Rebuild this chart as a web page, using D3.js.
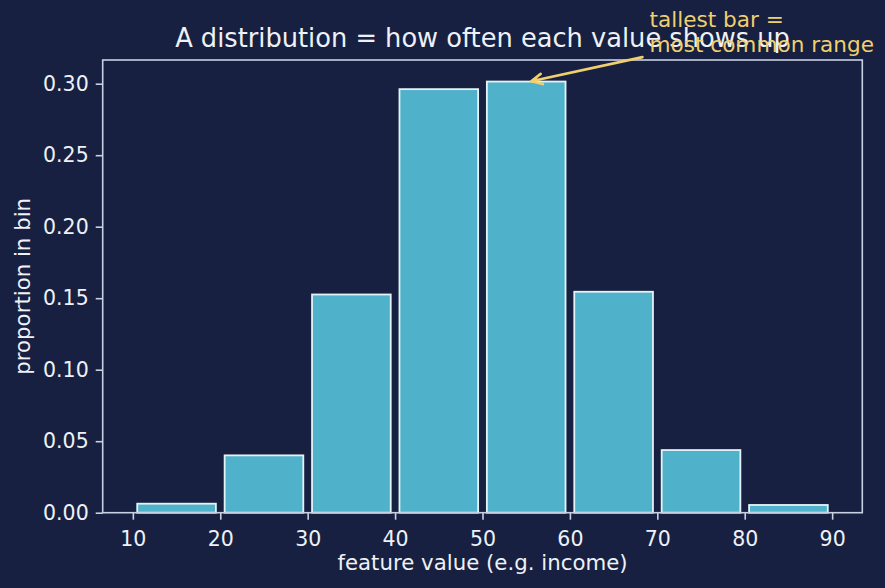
<!DOCTYPE html>
<html>
<head>
<meta charset="utf-8">
<script src="https://cdn.jsdelivr.net/npm/d3@7"></script>
<style>
  html, body { margin: 0; padding: 0; background: #172040; }
  svg { display: block; font-family: "DejaVu Sans", sans-serif; }
</style>
</head>
<body>
<script>
// histogram bins and the share of rows that fall in each one
var binStarts = [10, 20, 30, 40, 50, 60, 70, 80];
var binWidth = 10;
var proportions = [0.0063, 0.0401, 0.1526, 0.2962, 0.3015, 0.1545, 0.0438, 0.0054];
var xTicks = [10, 20, 30, 40, 50, 60, 70, 80, 90];
var yTicks = [0.00, 0.05, 0.10, 0.15, 0.20, 0.25, 0.30];

var titleText = "A distribution = how often each value shows up";
var xLabel = "feature value (e.g. income)";
var yLabel = "proportion in bin";
var noteLines = ["tallest bar =", "most common range"];
var notePoint = [55, 0.301];   // where the arrow points
var noteText = [69.1, 0.3395]; // where the note sits

// colours
var bg = "#172040", barFill = "#50b2ca", barEdge = "#e4f3f7",
    spine = "#c9d1e1", textCol = "#eef1f7", noteCol = "#f0cf6e";

// size and margins
var W = 885, H = 588;
var margin = {top: 60, right: 22.7, bottom: 75.3, left: 102.7},
    width = W - margin.left - margin.right,
    height = H - margin.top - margin.bottom;

var data = binStarts.map(function(b, i) { return {x0: b, x1: b + binWidth, p: proportions[i]}; });

// bars are 90% of the bin, axis padded 5% like matplotlib
var rw = 0.9;
var lo = binStarts[0] + binWidth * (1 - rw) / 2,
    hi = binStarts[binStarts.length - 1] + binWidth - binWidth * (1 - rw) / 2;
var pad = (hi - lo) * 0.05;
var x = d3.scaleLinear().domain([lo - pad, hi + pad]).range([0, width]);
var y = d3.scaleLinear().domain([0, d3.max(proportions) * 1.05]).range([height, 0]);

var svg = d3.select("body").append("svg")
  .attr("width", W)
  .attr("height", H);

svg.append("rect").attr("width", W).attr("height", H).attr("fill", bg);

var g = svg.append("g")
  .attr("transform", "translate(" + margin.left + "," + margin.top + ")");

// bars
g.selectAll(".bar")
  .data(data)
  .enter().append("rect")
  .attr("class", "bar")
  .attr("x", function(d) { return x(d.x0 + binWidth * (1 - rw) / 2); })
  .attr("width", function(d) { return x(d.x1 - binWidth * (1 - rw) / 2) - x(d.x0 + binWidth * (1 - rw) / 2); })
  .attr("y", function(d) { return y(d.p); })
  .attr("height", function(d) { return height - y(d.p); })
  .attr("fill", barFill)
  .attr("stroke", barEdge)
  .attr("stroke-width", 1.8);

// axes
var xAxis = g.append("g")
  .attr("transform", "translate(0," + height + ")")
  .call(d3.axisBottom(x).tickValues(xTicks).tickFormat(d3.format("d")).tickSizeInner(7).tickSizeOuter(0).tickPadding(7));

var yAxis = g.append("g")
  .call(d3.axisLeft(y).tickValues(yTicks).tickFormat(d3.format(".2f")).tickSizeInner(7).tickSizeOuter(0).tickPadding(7));

[xAxis, yAxis].forEach(function(a) {
  a.select(".domain").remove();
  a.selectAll(".tick line").attr("stroke", spine).attr("stroke-width", 1.6);
  a.selectAll(".tick text").attr("fill", textCol).style("font-size", "20.5px")
    .style("font-family", "'DejaVu Sans', sans-serif");
});
xAxis.selectAll(".tick text").attr("dy", "0.95em");

// spines (full frame)
g.append("rect")
  .attr("width", width).attr("height", height)
  .attr("fill", "none").attr("stroke", spine).attr("stroke-width", 1.6);

// title and labels
svg.append("text")
  .attr("x", margin.left + width / 2).attr("y", 47)
  .attr("text-anchor", "middle").attr("fill", textCol)
  .style("font-size", "25.7px").text(titleText);

svg.append("text")
  .attr("x", margin.left + width / 2).attr("y", 570)
  .attr("text-anchor", "middle").attr("fill", textCol)
  .style("font-size", "21.3px").text(xLabel);

svg.append("text")
  .attr("transform", "translate(30," + (margin.top + height / 2) + ") rotate(-90)")
  .attr("text-anchor", "middle").attr("fill", textCol)
  .style("font-size", "21.3px").text(yLabel);

// annotation
var tx = margin.left + x(noteText[0]), ty = margin.top + y(noteText[1]);
var note = svg.append("text").attr("fill", noteCol).style("font-size", "21.6px");
noteLines.forEach(function(line, i) {
  note.append("tspan").attr("x", tx).attr("y", ty + i * 24.4).text(line);
});

var ax0 = tx - 7, ay0 = ty + 24.4 + 5.5;
var ax1 = margin.left + x(notePoint[0]) + 5, ay1 = margin.top + y(notePoint[1]) - 1;
var ang = Math.atan2(ay1 - ay0, ax1 - ax0);
var hl = 12, hw = 0.45;
svg.append("path")
  .attr("d", "M" + ax0 + "," + ay0 + "L" + ax1 + "," + ay1 +
    "M" + (ax1 - hl * Math.cos(ang - hw)) + "," + (ay1 - hl * Math.sin(ang - hw)) +
    "L" + ax1 + "," + ay1 +
    "L" + (ax1 - hl * Math.cos(ang + hw)) + "," + (ay1 - hl * Math.sin(ang + hw)))
  .attr("fill", "none").attr("stroke", noteCol).attr("stroke-width", 2.6)
  .attr("stroke-linecap", "round").attr("stroke-linejoin", "round");
</script>
</body>
</html>
